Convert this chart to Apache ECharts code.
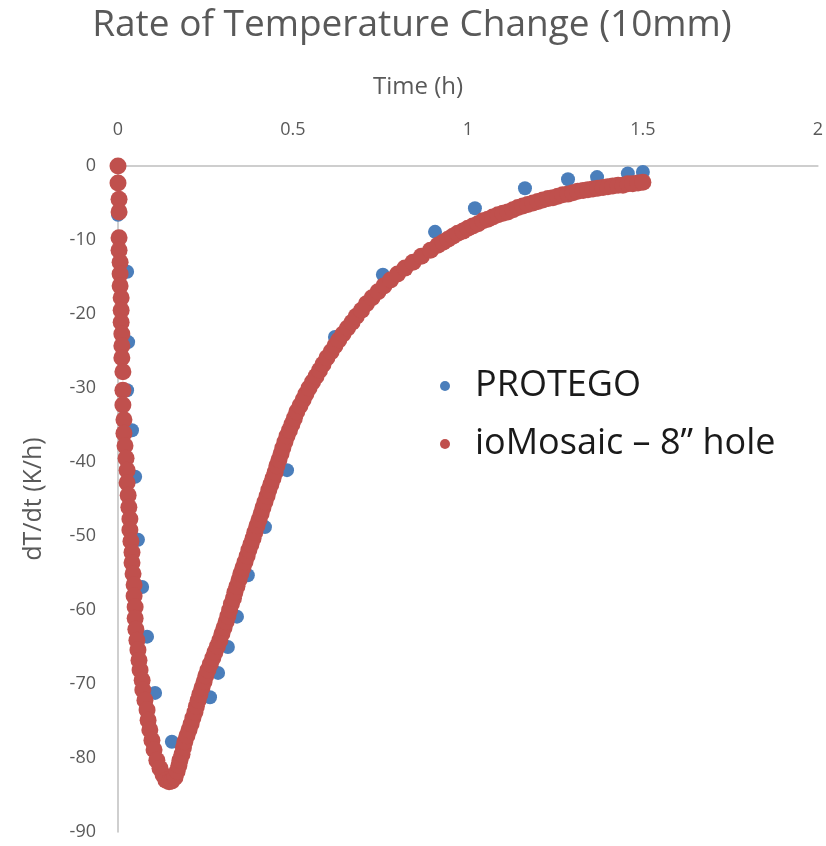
<!DOCTYPE html>
<html>
<head>
<meta charset="utf-8">
<script src="https://cdn.jsdelivr.net/npm/echarts@6/dist/echarts.min.js"></script>
<style>
html,body{margin:0;padding:0;background:#fff;}
#chart{width:826px;height:846px;}
</style>
</head>
<body>
<div id="chart"></div>
<script>
var chartTitle = 'Rate of Temperature Change (10mm)';
var xAxisName = 'Time (h)';
var yAxisName = 'dT/dt (K/h)';
var seriesNames = ['PROTEGO', 'ioMosaic \u2013 8\u201d hole'];

var protegoT = [0.000, 0.000, 0.026, 0.029, 0.026, 0.040, 0.049, 0.057, 0.069, 0.083, 0.106, 0.154,
  0.263, 0.286, 0.314, 0.340, 0.371, 0.420, 0.483, 0.620, 0.757, 0.906, 1.020, 1.163, 1.286, 1.369, 1.457, 1.500];
var protegoV = [0.0, -6.6, -14.3, -23.8, -30.3, -35.7, -42.0, -50.5, -56.9, -63.6, -71.2, -77.8,
  -71.8, -68.5, -65.0, -60.9, -55.3, -48.8, -41.1, -23.1, -14.7, -8.9, -5.7, -3.0, -1.8, -1.5, -1.0, -0.8];

var iomT = [
  0.000, 0.000, 0.003, 0.003, 0.003, 0.003, 0.006, 0.006, 0.006, 0.009, 0.009, 0.009, 0.011, 0.011, 0.011,
  0.014, 0.014, 0.014, 0.017, 0.017, 0.020, 0.023, 0.026, 0.026, 0.029, 0.031, 0.034, 0.034, 0.037, 0.040, 0.040,
  0.043, 0.046, 0.046, 0.049, 0.049, 0.051, 0.054, 0.057, 0.060, 0.063, 0.069, 0.071, 0.077, 0.083, 0.086, 0.091,
  0.097, 0.103, 0.111,
  0.120, 0.129, 0.137, 0.146, 0.154, 0.163, 0.169, 0.174, 0.177, 0.183, 0.187, 0.191, 0.197, 0.203, 0.209, 0.214,
  0.220, 0.224, 0.229, 0.234, 0.240, 0.246, 0.251, 0.257, 0.264, 0.271, 0.277, 0.284, 0.291, 0.297, 0.303, 0.309,
  0.314, 0.319, 0.324, 0.330, 0.334, 0.340, 0.346, 0.351, 0.357, 0.363, 0.369, 0.374, 0.380, 0.386, 0.391, 0.397,
  0.403, 0.409, 0.414, 0.420, 0.426, 0.431, 0.437, 0.443, 0.449, 0.454, 0.460, 0.466, 0.471, 0.477, 0.483,
  0.490, 0.497, 0.504, 0.511, 0.520, 0.529, 0.537, 0.546, 0.556, 0.566, 0.576, 0.586, 0.597, 0.609, 0.620, 0.631,
  0.643, 0.656, 0.669, 0.681, 0.696, 0.710, 0.726, 0.743, 0.760, 0.779, 0.799, 0.820, 0.843, 0.867, 0.893,
  0.914, 0.929, 0.943, 0.957, 0.971, 0.986, 1.000, 1.014, 1.029, 1.043, 1.057, 1.071, 1.086, 1.100, 1.114, 1.129,
  1.143, 1.157, 1.171, 1.186, 1.200, 1.214, 1.229, 1.243, 1.257, 1.271, 1.286, 1.300, 1.314, 1.329, 1.343, 1.357,
  1.371, 1.386, 1.400, 1.414, 1.429, 1.443, 1.457, 1.471, 1.486, 1.500];
var iomV = [
  0.0, -2.3, -4.5, -6.2, -9.7, -11.4, -13.0, -14.6, -16.2, -17.8, -19.5, -21.1, -22.7, -24.3, -25.9,
  -27.8, -30.3, -32.3, -34.3, -36.1, -37.8, -39.5, -41.1, -42.8, -44.5, -46.1, -47.7, -49.2, -50.7, -52.2, -53.6,
  -55.1, -56.6, -58.1, -59.6, -61.1, -62.6, -64.1, -65.4, -66.8, -68.1, -69.5, -70.8, -72.2, -73.5, -74.9, -76.2,
  -77.6, -78.9, -80.3,
  -81.4, -82.3, -83.0, -83.2, -83.1, -82.6, -81.8, -81.0, -80.3, -79.5, -78.6, -77.8, -77.0, -76.2, -75.4, -74.6,
  -73.8, -73.0, -72.2, -71.4, -70.5, -69.7, -68.9, -68.1, -67.3, -66.5, -65.7, -64.9, -64.1, -63.2, -62.4, -61.6,
  -60.8, -60.0, -59.2, -58.4, -57.6, -56.8, -55.9, -55.1, -54.3, -53.5, -52.7, -51.9, -51.1, -50.3, -49.5, -48.6,
  -47.8, -47.0, -46.2, -45.4, -44.6, -43.8, -43.0, -42.2, -41.4, -40.5, -39.7, -38.9, -38.1, -37.3, -36.5,
  -35.7, -34.9, -34.1, -33.2, -32.4, -31.6, -30.8, -30.0, -29.2, -28.4, -27.6, -26.8, -25.9, -25.1, -24.3, -23.5,
  -22.7, -21.9, -21.1, -20.3, -19.5, -18.6, -17.8, -17.0, -16.2, -15.4, -14.6, -13.8, -13.0, -12.2, -11.4,
  -10.7, -10.3, -9.9, -9.5, -9.1, -8.8, -8.4, -8.1, -7.8, -7.4, -7.2, -6.9, -6.6, -6.4, -6.2, -5.9,
  -5.6, -5.4, -5.2, -5.0, -4.8, -4.6, -4.4, -4.3, -4.1, -3.9, -3.8, -3.6, -3.4, -3.3, -3.2, -3.1,
  -3.0, -2.9, -2.8, -2.7, -2.6, -2.6, -2.4, -2.4, -2.3, -2.2];

function pairs(a, b) { return a.map(function (v, i) { return [v, b[i]]; }); }

var font = '"Open Sans", "Liberation Sans", sans-serif';
var chart = echarts.init(document.getElementById('chart'), null, { renderer: 'canvas' });
chart.setOption({
  animation: false,
  backgroundColor: '#ffffff',
  title: [
    { text: chartTitle, left: 407, textAlign: 'center', top: 2,
      textStyle: { fontFamily: font, fontSize: 37, fontWeight: 'normal', color: '#595959' } },
    { text: xAxisName, left: 413, textAlign: 'center', top: 70,
      textStyle: { fontFamily: font, fontSize: 24, fontWeight: 'normal', color: '#595959' } }
  ],
  legend: {
    orient: 'vertical', left: 435, top: 363, itemGap: 22,
    icon: 'circle', itemWidth: 10, itemHeight: 10,
    textStyle: { fontFamily: font, fontSize: 36, color: '#1a1a1a', padding: [0, 0, 0, 20] },
    data: seriesNames
  },
  grid: { left: 118, right: 8, top: 166, bottom: 14, containLabel: false },
  xAxis: {
    type: 'value', position: 'top', min: 0, max: 2, interval: 0.5,
    axisLine: { show: true, onZero: false, lineStyle: { color: '#bfbfbf', width: 1.5 } },
    axisTick: { show: false }, splitLine: { show: false },
    axisLabel: { margin: 27, fontFamily: font, fontSize: 18, color: '#595959' }
  },
  yAxis: {
    type: 'value', min: -90, max: 0, interval: 10,
    name: yAxisName, nameLocation: 'middle', nameGap: 72, nameRotate: 90,
    nameTextStyle: { fontFamily: font, fontSize: 25, color: '#595959' },
    axisLine: { show: true, onZero: false, lineStyle: { color: '#bfbfbf', width: 1.5 } },
    axisTick: { show: false }, splitLine: { show: false },
    axisLabel: { margin: 22, fontFamily: font, fontSize: 18, color: '#595959' }
  },
  series: [
    { name: seriesNames[0], type: 'scatter', symbol: 'circle', symbolSize: 14,
      itemStyle: { color: '#4a7ebb', opacity: 1 }, data: pairs(protegoT, protegoV) },
    { name: seriesNames[1], type: 'scatter', symbol: 'circle', symbolSize: 17,
      itemStyle: { color: '#c0504d', opacity: 1 }, data: pairs(iomT, iomV) }
  ]
});
</script>
</body>
</html>
